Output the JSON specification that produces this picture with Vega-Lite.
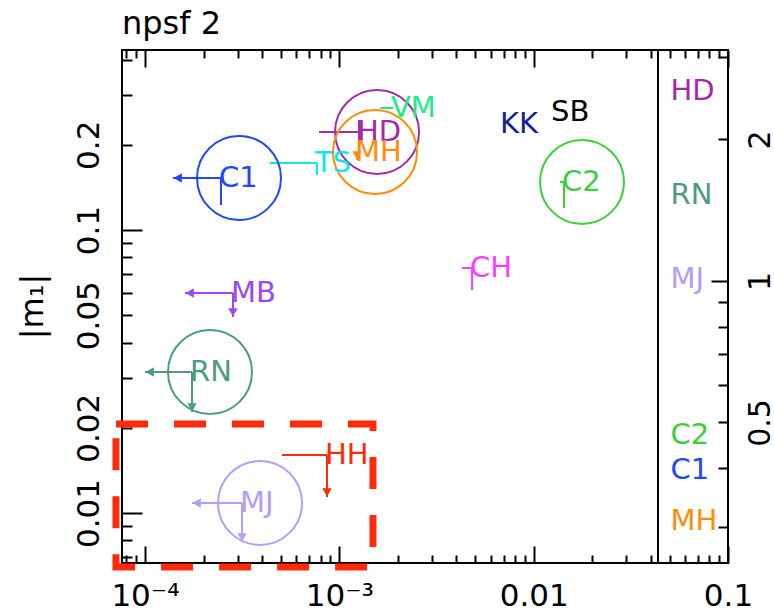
{
  "$schema": "https://vega.github.io/schema/vega-lite/v6.json",
  "width": 606,
  "height": 513,
  "autosize": {"type": "none"},
  "padding": {"left": 122, "top": 50, "right": 46, "bottom": 51},
  "background": "white",
  "title": {"text": "npsf 2", "anchor": "start", "frame": "group", "offset": 18, "dy": 35, "baseline": "alphabetic", "font": "DejaVu Sans", "fontSize": 32, "fontWeight": "normal", "color": "black"},
  "datasets": {
    "objs": [
      {"name": "C1", "x": 0.0002461, "y": 0.1527, "x2": 0.0001394, "xlim": true, "ytop": 0.1527, "ybot": 0.1225, "ylim": false, "circled": true},
      {"name": "TS", "x": 0.0007675, "y": 0.1724, "x2": 0.0004397, "xlim": false, "ytop": 0.1724, "ybot": 0.1564, "ylim": false, "circled": false},
      {"name": "HD", "x": 0.001263, "y": 0.222, "x2": 0.000786, "xlim": false, "ytop": 0.2447, "ybot": 0.1949, "ylim": false, "circled": true},
      {"name": "MH", "x": 0.001233, "y": 0.1886, "x2": null, "xlim": false, "ytop": 0.1886, "ybot": 0.1768, "ylim": true, "circled": true},
      {"name": "VM", "x": 0.001889, "y": 0.2698, "x2": 0.00162, "xlim": false, "ytop": null, "ybot": null, "ylim": false, "circled": false},
      {"name": "KK", "x": 0.006873, "y": 0.2369, "x2": null, "xlim": false, "ytop": null, "ybot": null, "ylim": false, "circled": false},
      {"name": "SB", "x": 0.012576, "y": 0.2612, "x2": null, "xlim": false, "ytop": null, "ybot": null, "ylim": false, "circled": false},
      {"name": "C2", "x": 0.014328, "y": 0.1478, "x2": 0.013667, "xlim": false, "ytop": 0.1478, "ybot": 0.1196, "ylim": false, "circled": true},
      {"name": "CH", "x": 0.004818, "y": 0.07338, "x2": 0.004278, "xlim": false, "ytop": 0.07338, "ybot": 0.06138, "ylim": false, "circled": false},
      {"name": "MB", "x": 0.0002836, "y": 0.0599, "x2": 0.0001606, "xlim": true, "ytop": 0.0599, "ybot": 0.04928, "ylim": true, "circled": false},
      {"name": "RN", "x": 0.0001745, "y": 0.0315, "x2": 0.0001, "xlim": true, "ytop": 0.0315, "ybot": 0.02274, "ylim": true, "circled": true},
      {"name": "MJ", "x": 0.0003157, "y": 0.01085, "x2": 0.0001745, "xlim": true, "ytop": 0.01085, "ybot": 0.0079, "ylim": true, "circled": true},
      {"name": "HH", "x": 0.0008642, "y": 0.01603, "x2": 0.000507, "xlim": false, "ytop": 0.01603, "ybot": 0.01139, "ylim": true, "circled": false}
    ],
    "legend": [
      {"name": "HD", "x": 0.0518, "r": 2.54},
      {"name": "RN", "x": 0.0518, "r": 1.52},
      {"name": "MJ", "x": 0.0518, "r": 1.01},
      {"name": "C2", "x": 0.0518, "r": 0.47},
      {"name": "C1", "x": 0.0518, "r": 0.396},
      {"name": "MH", "x": 0.0518, "r": 0.309}
    ],
    "box": [{"xa": 0.0000709, "xb": 0.00149, "ya": 0.02063, "yb": 0.00644}],
    "divider": [{"x": 0.04363}]
  },
  "layer": [
    {
      "data": {"name": "divider"},
      "mark": {"type": "rule", "color": "black", "strokeWidth": 2},
      "encoding": {
        "x": {"field": "x", "type": "quantitative", "scale": {"type": "log", "domain": [0.00007614, 0.1], "nice": false},
          "axis": {"orient": "top", "values": [0.00008, 0.00009, 0.0001, 0.0002, 0.0003, 0.0004, 0.0005, 0.0006, 0.0007, 0.0008, 0.0009, 0.001, 0.002, 0.003, 0.004, 0.005, 0.006, 0.007, 0.008, 0.009, 0.01, 0.02, 0.03, 0.04, 0.05, 0.06, 0.07, 0.08, 0.09, 0.1],
            "labels": false, "domain": false, "grid": false, "title": null, "ticks": true, "tickWidth": 2, "tickColor": "black",
            "tickSize": {"condition": {"test": "datum.value == 0.0001 || datum.value == 0.001 || datum.value == 0.01 || datum.value == 0.1", "value": -17}, "value": -8}}}
      }
    },
    {
      "data": {"name": "objs"},
      "transform": [{"filter": "isValid(datum.x2)"}],
      "mark": {"type": "rule", "strokeWidth": 2},
      "encoding": {
        "x": {"field": "x", "type": "quantitative", "scale": {"type": "log", "domain": [0.00007614, 0.1], "nice": false},
          "axis": {"orient": "bottom", "values": [0.0001, 0.001, 0.01, 0.1],
            "labelExpr": "datum.value == 0.0001 ? '10⁻⁴' : datum.value == 0.001 ? '10⁻³' : datum.value == 0.01 ? '0.01' : '0.1'",
            "ticks": false, "domain": false, "grid": false, "title": null, "labelPadding": 18, "labelAngle": 0, "labelAlign": "center", "labelBaseline": "top",
            "labelFlush": false, "labelOverlap": false, "labelBound": false, "labelFont": "DejaVu Sans", "labelFontSize": 31, "labelColor": "black"}},
        "x2": {"field": "x2"},
        "y": {"field": "y", "type": "quantitative", "scale": {"type": "log", "domain": [0.006657, 0.4325], "nice": false},
          "axis": {"orient": "left", "values": [0.01, 0.02, 0.05, 0.1, 0.2], "format": "~g", "ticks": false, "domain": false, "grid": false,
            "labelAngle": 270, "labelAlign": "center", "labelBaseline": "alphabetic", "labelPadding": 24,
            "labelFlush": false, "labelOverlap": false, "labelBound": false, "labelFont": "DejaVu Sans", "labelFontSize": 31, "labelColor": "black",
            "title": "|m₁|", "titleAngle": 270, "titleAlign": "center", "titleBaseline": "middle", "titleX": -90, "titleY": 256,
            "titleFont": "DejaVu Sans", "titleFontSize": 32, "titleFontWeight": "normal", "titleColor": "black"}},
        "color": {"field": "name", "type": "nominal", "legend": null,
          "scale": {"domain": ["C1", "TS", "HD", "MH", "VM", "KK", "SB", "C2", "CH", "MB", "RN", "MJ", "HH"],
            "range": ["#2147ff", "#14e4ec", "#a22aa8", "#ff8c0a", "#24e88c", "#13219a", "#000000", "#3ccf3c", "#ff3cff", "#9c48ee", "#4b9b80", "#b49cfc", "#ff2a0a"]}}
      }
    },
    {
      "data": {"name": "objs"},
      "transform": [{"filter": "isValid(datum.ybot)"}],
      "mark": {"type": "rule", "strokeWidth": 2},
      "encoding": {
        "x": {"field": "x", "type": "quantitative", "scale": {"type": "log", "domain": [0.00007614, 0.1], "nice": false},
          "axis": {"orient": "bottom", "values": [0.00008, 0.00009, 0.0001, 0.0002, 0.0003, 0.0004, 0.0005, 0.0006, 0.0007, 0.0008, 0.0009, 0.001, 0.002, 0.003, 0.004, 0.005, 0.006, 0.007, 0.008, 0.009, 0.01, 0.02, 0.03, 0.04, 0.05, 0.06, 0.07, 0.08, 0.09, 0.1],
            "labels": false, "domain": false, "grid": false, "title": null, "ticks": true, "tickWidth": 2, "tickColor": "black",
            "tickSize": {"condition": {"test": "datum.value == 0.0001 || datum.value == 0.001 || datum.value == 0.01 || datum.value == 0.1", "value": -17}, "value": -8}}},
        "y": {"field": "ytop", "type": "quantitative", "scale": {"type": "log", "domain": [0.006657, 0.4325], "nice": false},
          "axis": {"orient": "left", "values": [0.007, 0.008, 0.009, 0.01, 0.02, 0.03, 0.04, 0.05, 0.06, 0.07, 0.08, 0.09, 0.1, 0.2, 0.3, 0.4],
            "labels": false, "domain": false, "grid": false, "title": null, "ticks": true, "tickWidth": 2, "tickColor": "black",
            "tickSize": {"condition": {"test": "datum.value == 0.01 || datum.value == 0.1", "value": -20}, "value": -10}}},
        "y2": {"field": "ybot"},
        "color": {"field": "name", "type": "nominal", "legend": null}
      }
    },
    {
      "data": {"name": "objs"},
      "transform": [{"filter": "datum.xlim === true"}],
      "mark": {"type": "point", "shape": "triangle-left", "filled": true, "size": 90, "opacity": 1, "xOffset": 4.7},
      "encoding": {
        "x": {"field": "x2", "type": "quantitative", "scale": {"type": "log", "domain": [0.00007614, 0.1], "nice": false}, "axis": null},
        "y": {"field": "y", "type": "quantitative", "scale": {"type": "log", "domain": [0.006657, 0.4325], "nice": false}, "axis": null},
        "color": {"field": "name", "type": "nominal", "legend": null}
      }
    },
    {
      "data": {"name": "objs"},
      "transform": [{"filter": "datum.ylim === true"}],
      "mark": {"type": "point", "shape": "triangle-down", "filled": true, "size": 90, "opacity": 1, "yOffset": -4.7},
      "encoding": {
        "x": {"field": "x", "type": "quantitative", "scale": {"type": "log", "domain": [0.00007614, 0.1], "nice": false}, "axis": null},
        "y": {"field": "ybot", "type": "quantitative", "scale": {"type": "log", "domain": [0.006657, 0.4325], "nice": false}, "axis": null},
        "color": {"field": "name", "type": "nominal", "legend": null}
      }
    },
    {
      "data": {"name": "objs"},
      "transform": [{"filter": "datum.circled === true"}],
      "mark": {"type": "point", "shape": "circle", "filled": false, "size": 7056, "strokeWidth": 2, "opacity": 1, "xOffset": 18},
      "encoding": {
        "x": {"field": "x", "type": "quantitative", "scale": {"type": "log", "domain": [0.00007614, 0.1], "nice": false}, "axis": null},
        "y": {"field": "y", "type": "quantitative", "scale": {"type": "log", "domain": [0.006657, 0.4325], "nice": false}, "axis": null},
        "color": {"field": "name", "type": "nominal", "legend": null}
      }
    },
    {
      "data": {"name": "objs"},
      "mark": {"type": "text", "align": "left", "baseline": "middle", "dx": -2, "font": "DejaVu Sans", "fontSize": 29},
      "encoding": {
        "x": {"field": "x", "type": "quantitative", "scale": {"type": "log", "domain": [0.00007614, 0.1], "nice": false}, "axis": null},
        "y": {"field": "y", "type": "quantitative", "scale": {"type": "log", "domain": [0.006657, 0.4325], "nice": false}, "axis": null},
        "text": {"field": "name", "type": "nominal"},
        "color": {"field": "name", "type": "nominal", "legend": null}
      }
    },
    {
      "data": {"name": "legend"},
      "transform": [{"filter": {"field": "name", "oneOf": ["HD", "RN", "MJ"]}}],
      "mark": {"type": "text", "align": "left", "baseline": "middle", "dx": -2, "font": "DejaVu Sans", "fontSize": 29},
      "encoding": {
        "x": {"field": "x", "type": "quantitative", "scale": {"type": "log", "domain": [0.00007614, 0.1], "nice": false}, "axis": null},
        "y": {"field": "r", "type": "quantitative", "scale": {"type": "log", "domain": [0.2512, 3.1], "nice": false},
          "axis": {"orient": "right", "values": [0.5, 1, 2], "format": "~g", "ticks": false, "domain": false, "grid": false, "title": null,
            "labelAngle": 270, "labelAlign": "center", "labelBaseline": "top", "labelPadding": 17,
            "labelFlush": false, "labelOverlap": false, "labelBound": false, "labelFont": "DejaVu Sans", "labelFontSize": 30, "labelColor": "black"}},
        "text": {"field": "name", "type": "nominal"},
        "color": {"field": "name", "type": "nominal", "legend": null}
      }
    },
    {
      "data": {"name": "legend"},
      "transform": [{"filter": {"field": "name", "oneOf": ["C2", "C1", "MH"]}}],
      "mark": {"type": "text", "align": "left", "baseline": "middle", "dx": -2, "font": "DejaVu Sans", "fontSize": 29},
      "encoding": {
        "x": {"field": "x", "type": "quantitative", "scale": {"type": "log", "domain": [0.00007614, 0.1], "nice": false}, "axis": null},
        "y": {"field": "r", "type": "quantitative", "scale": {"type": "log", "domain": [0.2512, 3.1], "nice": false},
          "axis": {"orient": "right", "values": [0.3, 0.4, 0.5, 0.6, 0.7, 0.8, 0.9, 1, 2, 3],
            "labels": false, "domain": false, "grid": false, "title": null, "ticks": true, "tickWidth": 2, "tickColor": "black",
            "tickSize": {"condition": {"test": "datum.value == 1", "value": -17}, "value": -10}}},
        "text": {"field": "name", "type": "nominal"},
        "color": {"field": "name", "type": "nominal", "legend": null}
      }
    },
    {
      "data": {"name": "box"},
      "mark": {"type": "rect", "filled": false, "color": "#ff2a0a", "strokeWidth": 7, "strokeDash": [32, 26]},
      "encoding": {
        "x": {"field": "xa", "type": "quantitative", "scale": {"type": "log", "domain": [0.00007614, 0.1], "nice": false}, "axis": null},
        "x2": {"field": "xb"},
        "y": {"field": "ya", "type": "quantitative", "scale": {"type": "log", "domain": [0.006657, 0.4325], "nice": false}, "axis": null},
        "y2": {"field": "yb"}
      }
    }
  ],
  "resolve": {"scale": {"y": "independent"}, "axis": {"x": "independent", "y": "independent"}},
  "config": {
    "view": {"stroke": "black", "strokeWidth": 2},
    "axis": {"domain": false, "grid": false}
  }
}
